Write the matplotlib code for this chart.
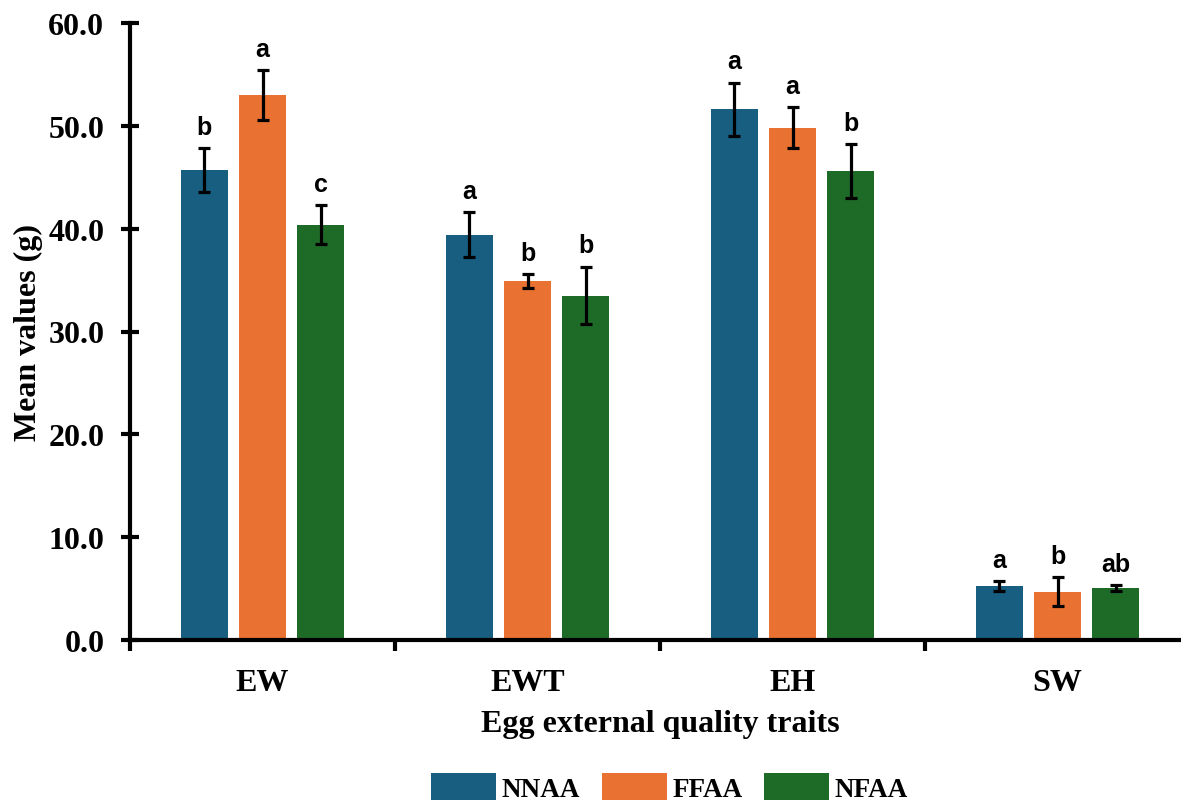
import matplotlib
matplotlib.use("Agg")
import matplotlib.pyplot as plt
import numpy as np

categories = ["EW", "EWT", "EH", "SW"]
groups = ["NNAA", "FFAA", "NFAA"]
means = {
    "NNAA": [45.7, 39.4, 51.6, 5.25],
    "FFAA": [53.0, 34.9, 49.8, 4.7],
    "NFAA": [40.4, 33.5, 45.6, 5.05],
}
errors = {
    "NNAA": [2.1, 2.2, 2.6, 0.5],
    "FFAA": [2.4, 0.7, 2.0, 1.4],
    "NFAA": [1.9, 2.8, 2.6, 0.3],
}
letters = {
    "NNAA": ["b", "a", "a", "a"],
    "FFAA": ["a", "b", "a", "b"],
    "NFAA": ["c", "b", "b", "ab"],
}
colors = {"NNAA": "#175E81", "FFAA": "#E97132", "NFAA": "#1E6B28"}
yticks = [0, 10, 20, 30, 40, 50, 60]

serif = ["Liberation Serif", "DejaVu Serif"]
sans = ["Liberation Sans", "DejaVu Sans"]

fig = plt.figure(figsize=(11.81, 8.03), dpi=100)
ax = fig.add_axes([130/1181, 1-641/803, 1060/1181, (641-24)/803])

x = np.arange(len(categories))
width = 0.175
offsets = [-0.219, 0.0, 0.219]
for g, off in zip(groups, offsets):
    ax.bar(x + off, means[g], width, color=colors[g], label=g, zorder=2)
    ax.errorbar(x + off, means[g], yerr=errors[g], fmt="none", ecolor="black",
                elinewidth=2.3, capsize=4, capthick=2.3, zorder=3)
    for xi, m, e, l in zip(x + off, means[g], errors[g], letters[g]):
        ax.text(xi, m + e + 0.9, l, ha="center", va="bottom", fontsize=18,
                fontweight="bold", family=sans)

ax.set_xlim(-0.5, 3.5)
ax.set_ylim(0, 60)
ax.set_yticks(yticks)
ax.set_yticklabels([f"{v:.1f}" for v in yticks])
ax.set_xticks(x)
ax.set_xticklabels(categories)
ax.set_xticks(np.arange(-0.5, 4.0, 1.0), minor=True)

for s in ["top", "right"]:
    ax.spines[s].set_visible(False)
for s in ["left", "bottom"]:
    ax.spines[s].set_linewidth(3)

ax.tick_params(axis="y", direction="inout", length=13, width=3, pad=12)
ax.tick_params(axis="x", which="major", length=0, pad=20)
ax.tick_params(axis="x", which="minor", direction="out", length=8, width=3)
for lab in ax.get_yticklabels() + ax.get_xticklabels():
    lab.set_fontfamily(serif)
    lab.set_fontweight("bold")
    lab.set_fontsize(23)

ax.set_ylabel("Mean values (g)", fontsize=23, fontweight="bold", family=serif, labelpad=4)
ax.set_xlabel("Egg external quality traits", fontsize=23, fontweight="bold", family=serif, labelpad=9)

fig.legend(loc="lower center", bbox_to_anchor=(0.567, -0.03), ncol=3, frameon=False,
           prop={"family": serif, "weight": "bold", "size": 19.5},
           handlelength=2.4, handleheight=1.2, handletextpad=0.2, columnspacing=0.8)

fig.savefig("out.png", dpi=100)
